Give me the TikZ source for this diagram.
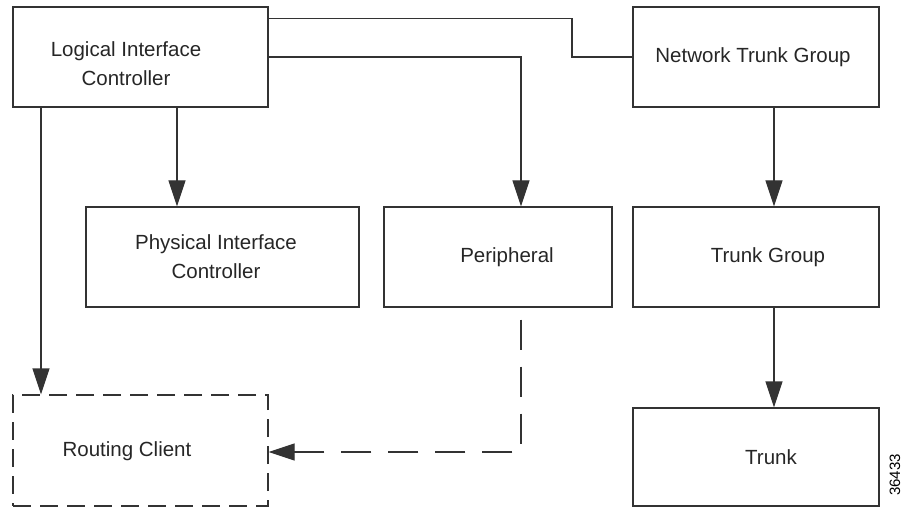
\documentclass[tikz,border=0pt]{standalone}
\usepackage{fontspec}
\setmainfont{Liberation Sans}
\usetikzlibrary{arrows.meta}
\begin{document}
\begin{tikzpicture}[x=1pt,y=-1pt,
  box/.style={draw=black!80, line width=1.3pt, rectangle, inner sep=0pt},
  dbox/.style={box, dash pattern=on 18pt off 9pt},
  lbl/.style={align=center, inner sep=0pt, font=\fontsize{20.5}{29}\selectfont, text=black!85},
  conn/.style={draw=black!80, line width=1.3pt},
  arr/.style={conn, -{Triangle[length=26pt,width=17pt]}},
  dconn/.style={arr, dash pattern=on 30pt off 17pt}]
\useasboundingbox (0,0) rectangle (908,508);
% boxes
\node[box, minimum width=255pt, minimum height=100pt] (lic) at (140.5,57) {};
\node[box, minimum width=246pt, minimum height=100pt] (ntg) at (756,57) {};
\node[box, minimum width=273pt, minimum height=100pt] (pic) at (222.5,257) {};
\node[box, minimum width=228pt, minimum height=100pt] (per) at (498,257) {};
\node[box, minimum width=246pt, minimum height=100pt] (tg) at (756,257) {};
\node[dbox, minimum width=255pt, minimum height=111pt] (rc) at (140.5,450.5) {};
\node[box, minimum width=246pt, minimum height=98pt] (tr) at (756,457) {};
% labels
\node[lbl] (licT) at (126,64) {Logical Interface\\Controller};
\node[lbl] (ntgT) at (753,57) {Network Trunk Group};
\node[lbl] (picT) at (216,257) {Physical Interface\\Controller};
\node[lbl] (perT) at (507,257) {Peripheral};
\node[lbl] (tgT) at (768,257) {Trunk Group};
\node[lbl] (rcT) at (127,451) {Routing Client};
\node[lbl] (trT) at (771,457) {Trunk};
\node[rotate=90, inner sep=0pt, font=\fontsize{15}{15}\selectfont] (fig) at (895,475) {36433};
% connectors
\coordinate (licTop) at ([yshift=-12.5pt]lic.north east);
\coordinate (bend) at (572,57);
\draw[conn] (licTop) -| (bend) -- (ntg.west);
\draw[arr] (lic.east) -| ([xshift=23pt]per.north);
\coordinate (licA) at ([xshift=36.5pt]lic.south);
\draw[arr] (licA) -- (licA |- pic.north);
\coordinate (licB) at ([xshift=-99.5pt]lic.south);
\draw[arr] (licB) -- (licB |- rc.north);
\coordinate (ntgA) at ([xshift=18pt]ntg.south);
\draw[arr] (ntgA) -- (ntgA |- tg.north);
\coordinate (tgA) at ([xshift=18pt]tg.south);
\draw[arr] (tgA) -- (tgA |- tr.north);
\coordinate (perB) at ([xshift=23pt,yshift=-12pt]per.south);
\coordinate (rcIn) at ([yshift=-1.5pt]rc.east);
\draw[dconn] (perB) |- (rcIn);
\end{tikzpicture}
\end{document}
